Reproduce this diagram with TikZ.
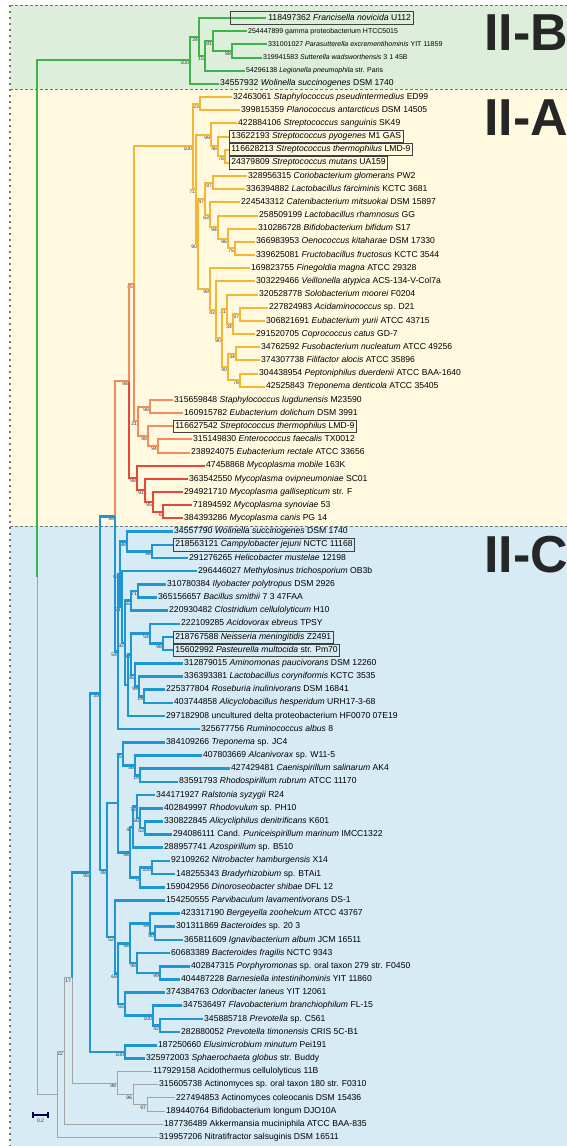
\documentclass[tikz,border=0pt]{standalone}
\usepackage{fontspec}
\setmainfont{Liberation Sans}
\usetikzlibrary{calc}

\definecolor{cgreen}{HTML}{3CB44B}
\definecolor{cyellow}{HTML}{F7B535}
\definecolor{corange}{HTML}{F28C5E}
\definecolor{cred}{HTML}{E8453C}
\definecolor{cblue}{HTML}{1E96D4}
\definecolor{cgray}{HTML}{A3A3A3}
\definecolor{bgB}{HTML}{DDEFDA}
\definecolor{bgA}{HTML}{FEF9DF}
\definecolor{bgC}{HTML}{D6EBF4}

\newcommand{\leaf}[5][]{\node[leaf,#1] (#2) at (#4,{18+(#3-1)*13.17}) {#5};}
\newcommand{\clade}[7]{%
  \path ($(#3)!0.5!(#5)$) coordinate (#1m);
  \coordinate (#1) at (#2,0 |- #1m);
  \draw[#4] (#1) |- (#3);
  \draw[#6] (#1) |- (#5);
  \node[bs] (#1b) at (#1) {#7};}

\begin{document}
\begin{tikzpicture}[x=1pt,y=-1pt,
  leaf/.style={anchor=west,inner xsep=1pt,inner ysep=0pt,text height=6pt,text depth=1.8pt,font=\fontsize{8.6}{9}\selectfont},
  leafs/.style={font=\fontsize{7}{8}\selectfont},
  lbox/.style={draw=black!75,line width=0.7pt,inner xsep=2pt,inner ysep=2.2pt},
  boxln/.style={draw=black!75,line width=0.7pt},
  bs/.style={anchor=north east,inner sep=0.8pt,font=\fontsize{5}{5}\selectfont,text=black!80},
  gline/.style={cgreen,line width=2pt},
  yline/.style={cyellow,line width=2pt},
  oline/.style={corange,line width=2pt},
  rline/.style={cred,line width=2pt},
  bline/.style={cblue,line width=2.6pt},
  kline/.style={cgray,line width=1pt},
  sbar/.style={draw=black!70!blue,line width=1.4pt},
  sect/.style={anchor=west,inner sep=0pt,font=\bfseries\fontsize{52}{52}\selectfont,text=black!85},
  border/.style={black!55,line width=0.8pt,dash pattern=on 3pt off 2pt}]
\useasboundingbox (0,0) rectangle (567,1146);
\clip (0,0) rectangle (567,1146);
\fill[bgB] (10,5) rectangle (567,89);
\fill[bgA] (10,89) rectangle (567,526);
\fill[bgC] (10,526) rectangle (567,1146);
\draw[border] (10,5) -- (567,5);
\draw[border] (10,89) -- (567,89);
\draw[border] (10,526) -- (567,526);
\draw[border,dash pattern=on 2pt off 4pt,line width=1.2pt] (10,5) -- (10,1146);
\node[sect] (secB) at (484,33) {II-B};
\node[sect] (secA) at (484,118) {II-A};
\node[sect] (secC) at (484,555) {II-C};

\leaf[lbox,draw=none]{fra}{1}{266}{118497362 \textit{Francisella novicida} U112}
\leaf[leafs]{gam}{2}{247}{254447899 gamma proteobacterium HTCC5015}
\leaf[leafs]{par}{3}{267}{331001027 \textit{Parasutterella excrementihominis} YIT 11859}
\leaf[leafs]{sut}{4}{262}{319941583 \textit{Sutterella wadsworthensis} 3 1 45B}
\leaf[leafs]{leg}{5}{245}{54296138 \textit{Legionella pneumophila} str. Paris}
\leaf{wol}{6}{219}{34557932 \textit{Wolinella succinogenes} DSM 1740}
\leaf{spi}{7}{232}{32463061 \textit{Staphylococcus pseudintermedius} ED99}
\leaf{pla}{8}{240}{399815359 \textit{Planococcus antarcticus} DSM 14505}
\leaf{ssa}{9}{237}{422884106 \textit{Streptococcus sanguinis} SK49}
\leaf[lbox]{spy}{10}{229}{13622193 \textit{Streptococcus pyogenes} M1 GAS}
\leaf[lbox]{sth}{11}{229}{116628213 \textit{Streptococcus thermophilus} LMD-9}
\leaf[lbox]{smu}{12}{229}{24379809 \textit{Streptococcus mutans} UA159}
\leaf{cor}{13}{247}{328956315 \textit{Coriobacterium glomerans} PW2}
\leaf{lfa}{14}{245}{336394882 \textit{Lactobacillus farciminis} KCTC 3681}
\leaf{cat}{15}{240}{224543312 \textit{Catenibacterium mitsuokai} DSM 15897}
\leaf{lrh}{16}{258}{258509199 \textit{Lactobacillus rhamnosus} GG}
\leaf{bbi}{17}{257}{310286728 \textit{Bifidobacterium bifidum} S17}
\leaf{oen}{18}{255}{366983953 \textit{Oenococcus kitaharae} DSM 17330}
\leaf{fru}{19}{255}{339625081 \textit{Fructobacillus fructosus} KCTC 3544}
\leaf{fin}{20}{250}{169823755 \textit{Finegoldia magna} ATCC 29328}
\leaf{vei}{21}{255}{303229466 \textit{Veillonella atypica} ACS-134-V-Col7a}
\leaf{sol}{22}{258}{320528778 \textit{Solobacterium moorei} F0204}
\leaf{aci}{23}{268}{227824983 \textit{Acidaminococcus} sp. D21}
\leaf{eyu}{24}{265}{306821691 \textit{Eubacterium yurii} ATCC 43715}
\leaf{cop}{25}{255}{291520705 \textit{Coprococcus catus} GD-7}
\leaf{fus}{26}{260}{34762592 \textit{Fusobacterium nucleatum} ATCC 49256}
\leaf{fil}{27}{260}{374307738 \textit{Filifactor alocis} ATCC 35896}
\leaf{pep}{28}{258}{304438954 \textit{Peptoniphilus duerdenii} ATCC BAA-1640}
\leaf{tde}{29}{265}{42525843 \textit{Treponema denticola} ATCC 35405}
\leaf{slu}{30}{173}{315659848 \textit{Staphylococcus lugdunensis} M23590}
\leaf{edo}{31}{183}{160915782 \textit{Eubacterium dolichum} DSM 3991}
\leaf[lbox]{sth2}{32}{173}{116627542 \textit{Streptococcus thermophilus} LMD-9}
\leaf{efa}{33}{192}{315149830 \textit{Enterococcus faecalis} TX0012}
\leaf{ere}{34}{190}{238924075 \textit{Eubacterium rectale} ATCC 33656}
\leaf{mmo}{35}{205}{47458868 \textit{Mycoplasma mobile} 163K}
\leaf{mov}{36}{188}{363542550 \textit{Mycoplasma ovipneumoniae} SC01}
\leaf{mga}{37}{183}{294921710 \textit{Mycoplasma gallisepticum} str. F}
\leaf{msy}{38}{192}{71894592 \textit{Mycoplasma synoviae} 53}
\leaf{mca}{39}{183}{384393286 \textit{Mycoplasma canis} PG 14}
\leaf{wol2}{40}{173}{34557790 \textit{Wolinella succinogenes} DSM 1740}
\leaf[lbox]{cje}{41}{173}{218563121 \textit{Campylobacter jejuni} NCTC 11168}
\leaf{hmu}{42}{188}{291276265 \textit{Helicobacter mustelae} 12198}
\leaf{mtr}{43}{197}{296446027 \textit{Methylosinus trichosporium} OB3b}
\leaf{ily}{44}{166}{310780384 \textit{Ilyobacter polytropus} DSM 2926}
\leaf{bsm}{45}{157}{365156657 \textit{Bacillus smithii} 7 3 47FAA}
\leaf{ccel}{46}{168}{220930482 \textit{Clostridium cellulolyticum} H10}
\leaf{aeb}{47}{180}{222109285 \textit{Acidovorax ebreus} TPSY}
\leaf[lbox]{nme}{48}{173}{218767588 \textit{Neisseria meningitidis} Z2491}
\leaf[lbox]{pmu}{49}{173}{15602992 \textit{Pasteurella multocida} str. Pm70}
\leaf{apa}{50}{183}{312879015 \textit{Aminomonas paucivorans} DSM 12260}
\leaf{lco}{51}{183}{336393381 \textit{Lactobacillus coryniformis} KCTC 3535}
\leaf{ros}{52}{165}{225377804 \textit{Roseburia inulinivorans} DSM 16841}
\leaf{ahe}{53}{173}{403744858 \textit{Alicyclobacillus hesperidum} URH17-3-68}
\leaf{unc}{54}{165}{297182908 uncultured delta proteobacterium HF0070 07E19}
\leaf{rum}{55}{200}{325677756 \textit{Ruminococcus albus} 8}
\leaf{trs}{56}{165}{384109266 \textit{Treponema} sp. JC4}
\leaf{alc}{57}{202}{407803669 \textit{Alcanivorax} sp. W11-5}
\leaf{cae}{58}{230}{427429481 \textit{Caenispirillum salinarum} AK4}
\leaf{rru}{59}{178}{83591793 \textit{Rhodospirillum rubrum} ATCC 11170}
\leaf{ral}{60}{155}{344171927 \textit{Ralstonia syzygii} R24}
\leaf{rho}{61}{163}{402849997 \textit{Rhodovulum} sp. PH10}
\leaf{ade}{62}{163}{330822845 \textit{Alicycliphilus denitrificans} K601}
\leaf{pun}{63}{172}{294086111 Cand. \textit{Puniceispirillum marinum} IMCC1322}
\leaf{azo}{64}{163}{288957741 \textit{Azospirillum} sp. B510}
\leaf{nha}{65}{170}{92109262 \textit{Nitrobacter hamburgensis} X14}
\leaf{bra}{66}{175}{148255343 \textit{Bradyrhizobium} sp. BTAi1}
\leaf{dsh}{67}{165}{159042956 \textit{Dinoroseobacter shibae} DFL 12}
\leaf{plv}{68}{165}{154250555 \textit{Parvibaculum lavamentivorans} DS-1}
\leaf{ber}{69}{180}{423317190 \textit{Bergeyella zoohelcum} ATCC 43767}
\leaf{bsp}{70}{175}{301311869 \textit{Bacteroides} sp. 20 3}
\leaf{ign}{71}{183}{365811609 \textit{Ignavibacterium album} JCM 16511}
\leaf{bfr}{72}{170}{60683389 \textit{Bacteroides fragilis} NCTC 9343}
\leaf{por}{73}{190}{402847315 \textit{Porphyromonas} sp. oral taxon 279 str. F0450}
\leaf{bar}{74}{180}{404487228 \textit{Barnesiella intestinihominis} YIT 11860}
\leaf{odo}{75}{165}{374384763 \textit{Odoribacter laneus} YIT 12061}
\leaf{fla}{76}{182}{347536497 \textit{Flavobacterium branchiophilum} FL-15}
\leaf{pre}{77}{203}{345885718 \textit{Prevotella} sp. C561}
\leaf{pti}{78}{180}{282880052 \textit{Prevotella timonensis} CRIS 5C-B1}
\leaf{elu}{79}{157}{187250660 \textit{Elusimicrobium minutum} Pei191}
\leaf{sph}{80}{145}{325972003 \textit{Sphaerochaeta globus} str. Buddy}
\leaf{ath}{81}{152}{117929158 Acidothermus cellulolyticus 11B}
\leaf{act}{82}{158}{315605738 Actinomyces sp. oral taxon 180 str. F0310}
\leaf{aco}{83}{175}{227494853 Actinomyces coleocanis DSM 15436}
\leaf{blo}{84}{165}{189440764 Bifidobacterium longum DJO10A}
\leaf{akk}{85}{163}{187736489 Akkermansia muciniphila ATCC BAA-835}
\leaf{nit}{86}{158}{319957206 Nitratifractor salsuginis DSM 16511}

\clade{b5}{232}{par}{gline}{sut}{gline}{88}
\clade{b4}{213}{gam}{gline}{b5}{gline}{91}
\clade{b3}{205}{b4}{gline}{leg}{gline}{15}
\clade{b2}{199}{fra}{gline}{b3}{gline}{34}
\clade{b1}{190}{b2}{gline}{wol}{gline}{100}

\clade{y1}{200}{spi}{yline}{pla}{yline}{23}
\clade{s3}{225}{sth}{yline}{smu}{yline}{78}
\clade{s2}{218}{spy}{yline}{s3}{yline}{46}
\clade{s1}{211}{ssa}{yline}{s2}{yline}{99}
\clade{c1}{213}{cor}{yline}{lfa}{yline}{97}
\clade{l4}{235}{oen}{yline}{fru}{yline}{75}
\clade{l3}{228}{bbi}{yline}{l4}{yline}{96}
\clade{l2}{218}{lrh}{yline}{l3}{yline}{94}
\clade{l1}{210}{cat}{yline}{l2}{yline}{63}
\clade{m1}{205}{c1}{yline}{l1}{yline}{47}
\clade{k4}{240}{aci}{yline}{eyu}{yline}{87}
\clade{k3}{233}{k4}{yline}{cop}{yline}{34}
\clade{k2}{227}{sol}{yline}{k3}{yline}{21}
\clade{f2}{236}{fus}{yline}{fil}{yline}{34}
\clade{f3}{240}{pep}{yline}{tde}{yline}{78}
\clade{f1}{228}{f2}{yline}{f3}{yline}{40}
\clade{j1}{222}{k2}{yline}{f1}{yline}{90}
\clade{v2}{216}{vei}{yline}{j1}{yline}{43}
\clade{v1}{210}{fin}{yline}{v2}{yline}{99}
\clade{m0}{198}{m1}{yline}{v1}{yline}{90}
\clade{r0}{196}{s1}{yline}{m0}{yline}{71}
\clade{Y}{193}{y1}{yline}{r0}{yline}{100}

\clade{o2}{150}{slu}{oline}{edo}{oline}{98}
\clade{o4}{158}{efa}{oline}{ere}{oline}{94}
\clade{o3}{148}{sth2}{oline}{o4}{oline}{98}
\clade{o1}{138}{o2}{oline}{o3}{oline}{21}
\clade{Q}{134}{Y}{yline}{o1}{oline}{45}
\clade{r4}{163}{msy}{rline}{mca}{rline}{6}
\clade{r3}{153}{mga}{rline}{r4}{rline}{95}
\clade{r2}{145}{mov}{rline}{r3}{rline}{91}
\clade{r1}{137}{mmo}{rline}{r2}{rline}{98}
\clade{P}{129}{Q}{oline}{r1}{rline}{98}

\clade{w2}{152}{cje}{bline}{hmu}{bline}{98}
\clade{w1}{127}{wol2}{bline}{w2}{bline}{98}
\clade{n7}{163}{nme}{bline}{pmu}{bline}{98}
\clade{n6}{150}{aeb}{bline}{n7}{bline}{54}
\clade{a3}{144}{ros}{bline}{ahe}{bline}{19}
\clade{a2}{139}{lco}{bline}{a3}{bline}{99}
\clade{a1}{135}{apa}{bline}{a2}{bline}{36}
\clade{J2}{131}{n6}{bline}{a1}{bline}{93}
\clade{J1}{128}{J2}{bline}{unc}{bline}{}
\clade{i1}{138}{ily}{bline}{bsm}{bline}{71}
\clade{i2}{131}{i1}{bline}{ccel}{bline}{55}
\clade{i3}{125}{i2}{bline}{J1}{bline}{92}
\clade{i4}{122}{mtr}{bline}{i3}{bline}{71}
\clade{X1}{120}{w1}{bline}{i4}{bline}{62}
\clade{B1}{118}{X1}{bline}{rum}{bline}{54}
\clade{K}{115}{P}{oline}{B1}{bline}{98}

\clade{t3}{140}{cae}{bline}{rru}{bline}{14}
\clade{t2}{135}{alc}{bline}{t3}{bline}{56}
\clade{t1}{123}{trs}{bline}{t2}{bline}{5}
\clade{h5}{152}{nha}{bline}{bra}{bline}{100}
\clade{h4}{140}{h5}{bline}{dsh}{bline}{0}
\clade{h3}{145}{ade}{bline}{pun}{bline}{53}
\clade{h2}{140}{rho}{bline}{h3}{bline}{66}
\clade{h1}{137}{ral}{bline}{h2}{bline}{73}
\clade{hA}{133}{h1}{bline}{azo}{bline}{47}
\clade{hB}{130}{hA}{bline}{h4}{bline}{98}
\clade{G1}{118}{t1}{bline}{hB}{bline}{}
\clade{q3}{155}{bsp}{bline}{ign}{bline}{50}
\clade{q2}{150}{ber}{bline}{q3}{bline}{99}
\clade{q5}{160}{por}{bline}{bar}{bline}{99}
\clade{q4}{137}{bfr}{bline}{q5}{bline}{98}
\clade{q1}{130}{q2}{bline}{q4}{bline}{98}
\clade{p3}{160}{pre}{bline}{pti}{bline}{42}
\clade{p2}{153}{fla}{bline}{p3}{bline}{100}
\clade{p1}{125}{odo}{bline}{p2}{bline}{65}
\clade{q0}{118}{q1}{bline}{p1}{bline}{69}
\clade{G2}{115}{plv}{bline}{q0}{bline}{52}
\clade{V}{107}{G1}{bline}{G2}{bline}{48}
\clade{U}{100}{K}{bline}{V}{bline}{35}
\clade{e1}{125}{elu}{bline}{sph}{bline}{100}
\clade{BR}{90}{U}{bline}{e1}{bline}{95}

\clade{ac3}{147}{aco}{kline}{blo}{kline}{97}
\clade{ac2}{133}{act}{kline}{ac3}{kline}{96}
\clade{ac1}{117}{ath}{kline}{ac2}{kline}{98}
\clade{gY}{72}{BR}{bline}{ac1}{kline}{17}
\clade{gX}{64}{gY}{kline}{akk}{kline}{22}
\clade{gZ}{57}{gX}{kline}{nit}{kline}{}
\clade{root}{37}{b1}{gline}{gZ}{kline}{}

\draw[boxln] ([xshift=-36pt]fra.south west) rectangle (fra.north east);

\coordinate (sbl) at (33,1115);
\coordinate (sbr) at (48,1115);
\draw[sbar] (sbl) -- (sbr);
\draw[sbar] ([yshift=3pt]sbl) -- ([yshift=-3pt]sbl);
\draw[sbar] ([yshift=3pt]sbr) -- ([yshift=-3pt]sbr);
\node[bs,anchor=north] (sbt) at ($(sbl)!0.5!(sbr)+(0,3)$) {0.2};
\end{tikzpicture}
\end{document}
